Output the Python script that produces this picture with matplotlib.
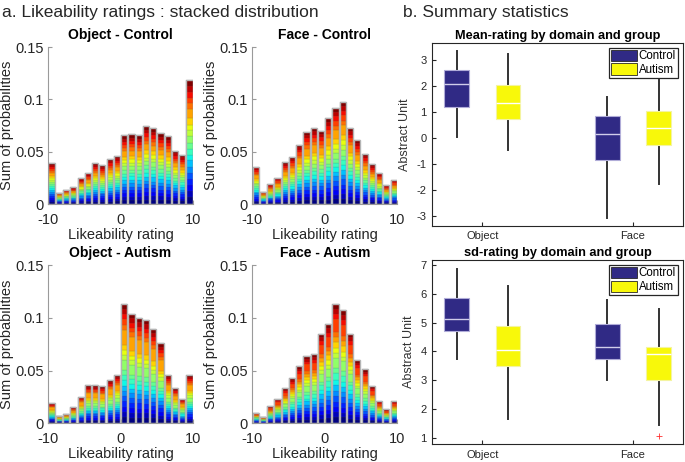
import numpy as np
import matplotlib.pyplot as plt
from matplotlib.patches import Patch

plt.rcParams['font.family'] = ['Liberation Sans', 'DejaVu Sans']
plt.rcParams['axes.unicode_minus'] = False

# ---- panel a : stacked distributions (bins -10..10, width 1) ----
bin_centers = np.arange(-9.5, 10, 1.0)

object_control = [0.039, 0.011, 0.014, 0.016, 0.025, 0.030, 0.039, 0.037, 0.043, 0.046,
                  0.066, 0.067, 0.066, 0.075, 0.073, 0.068, 0.065, 0.051, 0.047, 0.119]
face_control = [0.036, 0.012, 0.019, 0.025, 0.040, 0.045, 0.057, 0.069, 0.073, 0.070,
                0.082, 0.092, 0.098, 0.073, 0.061, 0.048, 0.038, 0.030, 0.018, 0.023]
object_autism = [0.019, 0.007, 0.009, 0.015, 0.025, 0.036, 0.036, 0.035, 0.041, 0.046,
                 0.113, 0.104, 0.100, 0.098, 0.089, 0.076, 0.046, 0.033, 0.023, 0.046]
face_autism = [0.010, 0.006, 0.016, 0.023, 0.033, 0.043, 0.054, 0.064, 0.066, 0.085,
               0.094, 0.113, 0.107, 0.085, 0.060, 0.051, 0.035, 0.021, 0.013, 0.021]

# relative share of each participant layer, bottom (blue) to top (dark red)
object_control_layers = [1.3, 1.1, 1.0, 1.1, 1.0, 1.0, 1.2, 1.0, 1.0, 1.1,
                         1.2, 1.0, 1.0, 1.1, 1.6, 1.0, 1.0, 1.1, 1.0, 1.1]
face_control_layers = [1.2, 1.0, 1.1, 1.0, 1.2, 1.0, 1.0, 1.2, 1.0, 1.0,
                       1.3, 1.0, 1.2, 1.0, 2.2, 1.0, 1.2, 1.0, 1.0, 1.0]
object_autism_layers = [1.2, 1.0, 1.0, 1.2, 1.0, 1.0, 1.0, 1.0, 1.0, 1.0,
                        2.0, 1.0, 1.0, 1.0, 3.0, 1.0, 1.0, 1.0, 1.0, 1.0]
face_autism_layers = [1.2, 1.0, 1.0, 1.0, 1.2, 1.0, 1.2, 1.0, 1.3, 1.0,
                      2.0, 1.0, 1.0, 1.2, 1.0, 1.0, 2.4, 1.0, 1.0, 1.0]

# ---- panel b : box plot summaries [low whisker, Q1, median, Q3, high whisker] ----
domains = ['Object', 'Face']
mean_control = [[0.03, 1.20, 2.08, 2.62, 3.35], [-3.06, -0.86, 0.17, 0.86, 1.56]]
mean_autism = [[-0.46, 0.74, 1.33, 2.03, 3.23], [-1.77, -0.27, 0.38, 1.04, 2.90]]
sd_control = [[3.75, 4.72, 5.12, 5.85, 6.85], [3.02, 3.75, 4.17, 4.94, 5.79]]
sd_autism = [[1.64, 3.48, 4.04, 4.89, 6.27], [1.44, 3.00, 3.92, 4.17, 5.48]]
sd_autism_outliers = [[], [1.06]]

ctrl_color = '#302a85'
aut_color = '#f8f80a'
axis_gray = '#9a9a9a'
text_dark = '#262626'

fig = plt.figure(figsize=(6.85, 4.62), dpi=100)


def stacked_hist(ax, totals, layers, title):
    w = np.array(layers) / np.sum(layers)
    colors = plt.cm.jet(np.linspace(0, 1, len(w)))
    totals = np.array(totals)
    bottom = np.zeros(len(totals))
    for k in range(len(w)):
        h = totals * w[k]
        ax.bar(bin_centers, h, width=0.85, bottom=bottom, color=colors[k],
               edgecolor=(0.3, 0.3, 0.3, 0.35), linewidth=0.3)
        bottom += h
    # outline of the whole bar
    ax.bar(bin_centers, totals, width=0.85, fill=False, edgecolor='#b4b4b4', linewidth=1.0)
    ax.set_xlim(-10, 10)
    ax.set_ylim(0, 0.15)
    ax.set_xticks([-10, 0, 10])
    ax.set_yticks([0, 0.05, 0.1, 0.15])
    ax.set_yticklabels(['0', '0.05', '0.1', '0.15'])
    ax.set_title(title, fontsize=10, fontweight='bold', pad=6)
    ax.set_xlabel('Likeability rating', fontsize=10.5, labelpad=1, color=text_dark)
    ax.set_ylabel('Sum of probabilities', fontsize=10.5, labelpad=1, color=text_dark)
    for s in ['top', 'right']:
        ax.spines[s].set_visible(False)
    for s in ['left', 'bottom']:
        ax.spines[s].set_color(axis_gray)
    ax.tick_params(direction='in', length=3, color=axis_gray, labelsize=10.5,
                   labelcolor=text_dark)
    ax.tick_params(axis='y', pad=3)
    ax.tick_params(axis='x', pad=6)


ax1 = fig.add_axes([0.070, 0.558, 0.212, 0.340])
stacked_hist(ax1, object_control, object_control_layers, 'Object - Control')
ax2 = fig.add_axes([0.368, 0.558, 0.212, 0.340])
stacked_hist(ax2, face_control, face_control_layers, 'Face - Control')
ax3 = fig.add_axes([0.070, 0.084, 0.212, 0.342])
stacked_hist(ax3, object_autism, object_autism_layers, 'Object - Autism')
ax4 = fig.add_axes([0.368, 0.084, 0.212, 0.342])
stacked_hist(ax4, face_autism, face_autism_layers, 'Face - Autism')


def box_panel(ax, control, autism, title, ylim, yticks, autism_fliers=None):
    stats = []
    pos = []
    for i in range(len(domains)):
        for vals, off, fl in [(control[i], -0.17, []),
                              (autism[i], 0.17, autism_fliers[i] if autism_fliers else [])]:
            stats.append({'whislo': vals[0], 'q1': vals[1], 'med': vals[2],
                          'q3': vals[3], 'whishi': vals[4], 'fliers': fl})
            pos.append(i + 1 + off)
    bp = ax.bxp(stats, positions=pos, widths=0.165, patch_artist=True, showcaps=False,
                boxprops=dict(linewidth=0.8),
                whiskerprops=dict(color='#333333', linewidth=1.4),
                medianprops=dict(linewidth=1.0),
                flierprops=dict(marker='+', markeredgecolor='#ff3030', markersize=4,
                                markeredgewidth=0.6))
    for j, patch in enumerate(bp['boxes']):
        if j % 2 == 0:
            patch.set_facecolor(ctrl_color)
            patch.set_edgecolor('#b0acd8')
            bp['medians'][j].set_color('#d0cdea')
        else:
            patch.set_facecolor(aut_color)
            patch.set_edgecolor('#f4f4a0')
            bp['medians'][j].set_color('white')
        patch.set_zorder(3)
        bp['medians'][j].set_zorder(4)
    ax.set_xlim(0.665, 2.33)
    ax.set_ylim(*ylim)
    ax.set_yticks(yticks)
    ax.set_xticks([1, 2])
    ax.set_xticklabels(domains, fontsize=9.5)
    ax.set_title(title, fontsize=9.2, fontweight='bold', pad=3)
    ax.set_ylabel('Abstract Unit', fontsize=9, color='#333333', labelpad=4)
    ax.tick_params(direction='in', length=3, labelsize=8, color=text_dark,
                   labelcolor=text_dark, pad=4)
    for s in ax.spines.values():
        s.set_color(text_dark)
        s.set_linewidth(0.8)
    handles = [Patch(facecolor=ctrl_color, edgecolor=text_dark, linewidth=0.6),
               Patch(facecolor=aut_color, edgecolor=text_dark, linewidth=0.6)]
    leg = ax.legend(handles, ['Control', 'Autism'], loc='upper right', fontsize=8.3,
                    fancybox=False, framealpha=1, edgecolor=text_dark, borderpad=0.2,
                    labelspacing=0.1, handlelength=2.2, handleheight=1.1,
                    handletextpad=0.15, borderaxespad=0.4)
    leg.get_frame().set_linewidth(0.9)


ax5 = fig.add_axes([0.6307, 0.511, 0.366, 0.396])
box_panel(ax5, mean_control, mean_autism, 'Mean-rating by domain and group',
          (-3.38, 3.65), range(-3, 4))
ax6 = fig.add_axes([0.6307, 0.039, 0.366, 0.398])
box_panel(ax6, sd_control, sd_autism, 'sd-rating by domain and group',
          (0.79, 7.17), range(1, 8), sd_autism_outliers)

fig.text(0.003, 0.974, 'a. Likeability ratings : stacked distribution', fontsize=12.5,
         va='center', color=text_dark)
fig.text(0.588, 0.974, 'b. Summary statistics', fontsize=12.5, va='center', color=text_dark)

fig.savefig('out.png', dpi=100)
